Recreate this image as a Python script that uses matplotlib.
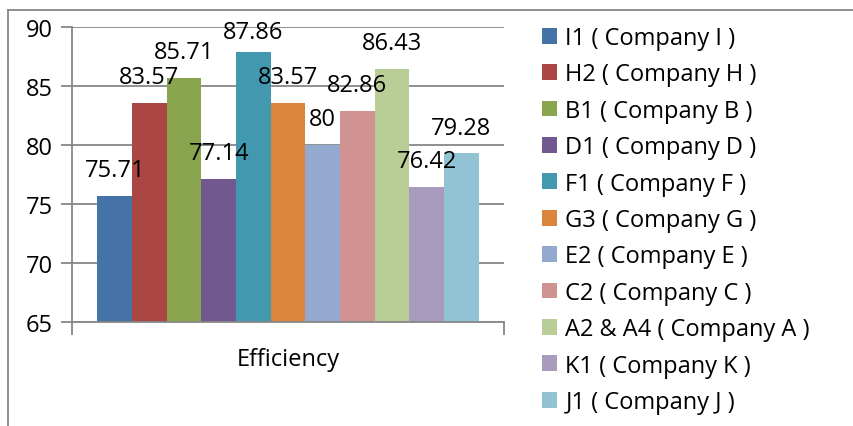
import matplotlib.pyplot as plt
from matplotlib.lines import Line2D
from matplotlib.patches import Patch

plt.rcParams['font.family'] = ['Open Sans', 'DejaVu Sans']

# series (one bar each, all under the single "Efficiency" category)
series = ['I1 ( Company I )', 'H2 ( Company H )', 'B1 ( Company B )',
          'D1 ( Company D )', 'F1 ( Company F )', 'G3 ( Company G )',
          'E2 ( Company E )', 'C2 ( Company C )', 'A2 & A4 ( Company A )',
          'K1 ( Company K )', 'J1 ( Company J )']
values = [75.71, 83.57, 85.71, 77.14, 87.86, 83.57, 80, 82.86, 86.43, 76.42, 79.28]
value_labels = ['75.71', '83.57', '85.71', '77.14', '87.86', '83.57', '80',
                '82.86', '86.43', '76.42', '79.28']
colors = ['#4572A7', '#AA4643', '#89A54E', '#71588F', '#4198AF', '#DB843D',
          '#93A9CF', '#D19392', '#B9CD96', '#A99BBD', '#92C3D4']
category = 'Efficiency'
yticks = [65, 70, 75, 80, 85, 90]

W, H = 854, 427
fig = plt.figure(figsize=(W / 100, H / 100), dpi=100)
ax = fig.add_axes([72 / W, 1 - 323 / H, (504 - 72) / W, (323 - 28) / H])

grey = '#878787'
fs = 17
n = len(values)
bw = 0.882 / n
for i, (v, c, lab) in enumerate(zip(values, colors, value_labels)):
    x = (i - (n - 1) / 2) * bw
    ax.bar(x, v - 65, bottom=65, width=bw, color=c, label=series[i], zorder=2)
    ty = min(v + 2.2, 89.55)
    ax.text(x, ty, lab, ha='center', va='center', fontsize=fs, color='black',
            zorder=3, clip_on=False)

ax.set_xlim(-0.5, 0.5)
ax.set_ylim(65, 90)
ax.set_yticks(yticks)
ax.set_yticklabels([str(t) for t in yticks], fontsize=fs)
ax.yaxis.grid(True, color=grey, linewidth=1.3, zorder=0)
ax.set_axisbelow(True)
ax.tick_params(axis='y', length=8, width=1.3, color=grey, pad=6)

ax.set_xticks([0])
ax.set_xticklabels([category], fontsize=fs)
ax.tick_params(axis='x', which='major', length=0, pad=18)
ax.set_xticks([-0.5, 0.5], minor=True)
ax.tick_params(axis='x', which='minor', length=9, width=1.3, color=grey, direction='out')

for s in ['top', 'right']:
    ax.spines[s].set_visible(False)
for s in ['left', 'bottom']:
    ax.spines[s].set_color(grey)
    ax.spines[s].set_linewidth(1.3)

handles = [Patch(facecolor=c, edgecolor='none') for c in colors]
fig.legend(handles, series, loc='upper left', bbox_to_anchor=(542 / W, 1 - 27 / H),
           frameon=False, fontsize=fs, handlelength=0.65, handleheight=0.65,
           handletextpad=0.34, labelspacing=0.525, borderpad=0, borderaxespad=0)

# outer chart frame (left and top edges visible)
fig.add_artist(Line2D([8 / W, 8 / W], [0, 1 - 11 / H], color=grey, lw=1.3,
                      transform=fig.transFigure))
fig.add_artist(Line2D([8 / W, 1], [1 - 11 / H, 1 - 11 / H], color=grey, lw=1.3,
                      transform=fig.transFigure))

fig.savefig('out.png', dpi=100)
